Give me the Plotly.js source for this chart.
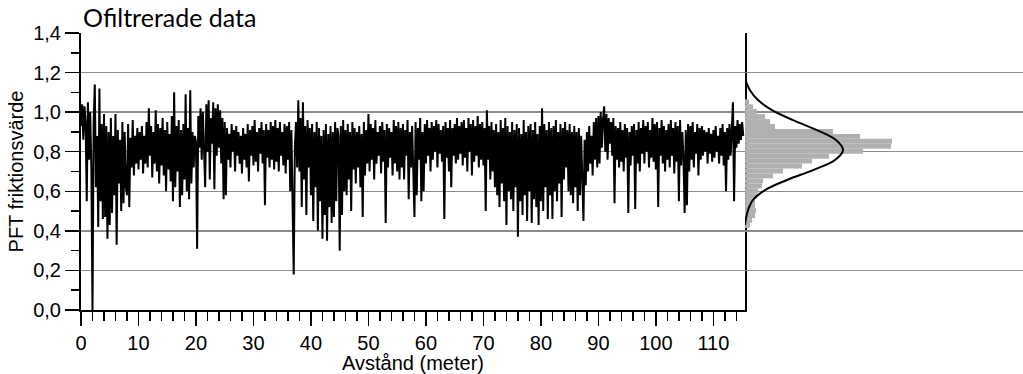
<!DOCTYPE html>
<html>
<head>
<meta charset="utf-8">
<script src="https://cdn.plot.ly/plotly-3.0.1.min.js"></script>
<style>html,body{margin:0;padding:0;background:#fff;}#chart{width:1023px;height:374px;}</style>
</head>
<body>
<div id="chart"></div>
<script>
// sampling step along the track (metres)
const stepMeters = 0.2;

// PFT friction values (one value per 0.2 m)
const pft = [
0.93,1.04,0.86,1.03,0.95,0.55,1.05,0.76,1.00,0.72,
0.00,0.95,1.14,0.62,0.88,0.42,1.12,0.55,0.94,0.46,
0.99,0.47,0.93,0.36,0.90,0.43,0.97,0.49,0.88,0.58,
0.99,0.33,0.91,0.64,0.86,0.50,0.95,0.54,0.90,0.62,
0.58,0.94,0.52,0.87,0.72,0.96,0.68,0.88,0.74,0.92,
0.71,0.90,0.76,0.93,0.69,0.88,0.74,0.95,0.72,1.02,
0.78,0.93,0.67,0.90,0.74,1.01,0.70,0.94,0.64,0.92,
0.73,0.97,0.68,0.91,0.60,0.95,0.71,0.89,0.65,0.98,
0.55,1.10,0.62,0.93,0.70,0.96,0.52,0.91,0.58,0.94,
0.66,1.09,0.60,0.92,0.56,1.11,0.64,0.90,0.72,0.88,
0.85,0.31,0.98,0.82,1.02,0.76,1.00,0.84,0.62,1.04,
0.80,1.06,0.66,0.97,0.84,1.05,0.61,1.02,0.78,1.04,
0.82,1.01,0.74,0.97,0.56,0.95,0.58,0.92,0.76,0.89,
0.72,0.94,0.80,0.91,0.70,0.93,0.78,0.90,0.74,0.88,
0.69,0.92,0.76,0.89,0.72,0.94,0.65,0.91,0.78,0.93,
0.73,0.96,0.75,0.90,0.70,0.92,0.79,0.95,0.74,0.91,
0.53,0.94,0.77,0.91,0.72,0.95,0.76,0.93,0.71,0.96,
0.75,0.92,0.70,0.95,0.78,0.90,0.73,0.94,0.69,0.93,
0.76,0.95,0.60,0.91,0.45,0.18,0.82,0.95,0.72,1.06,
0.70,0.97,0.52,1.05,0.66,0.93,0.48,0.96,0.72,0.92,
0.58,0.94,0.45,0.90,0.62,0.95,0.40,0.92,0.55,0.88,
0.36,0.91,0.48,0.94,0.35,0.89,0.52,0.93,0.44,0.90,
0.47,0.95,0.55,0.92,0.88,0.30,0.93,0.48,0.96,0.60,
0.91,0.58,0.94,0.66,0.90,0.50,0.95,0.71,0.92,0.64,
0.90,0.72,0.93,0.62,0.89,0.47,0.95,0.68,0.91,0.74,
0.99,0.70,0.94,0.76,0.92,0.66,0.96,0.74,0.90,0.78,
0.93,0.69,0.95,0.75,0.91,0.44,0.94,0.72,0.92,0.77,
0.90,0.68,0.96,0.74,0.93,0.70,0.95,0.66,0.92,0.72,
0.94,0.66,0.91,0.78,0.96,0.56,0.90,0.72,0.93,0.60,
0.47,0.95,0.58,0.92,0.76,0.97,0.55,0.90,0.60,0.94,
0.74,0.96,0.78,0.92,0.70,0.95,0.76,0.93,0.80,0.96,
0.72,0.94,0.79,0.91,0.75,0.93,0.46,0.95,0.77,0.92,
0.70,0.96,0.62,0.92,0.78,0.94,0.74,0.97,0.76,0.93,
0.79,0.95,0.73,0.96,0.77,0.92,0.70,0.97,0.80,0.94,
0.68,0.96,0.75,0.93,0.78,0.98,0.72,0.94,0.76,0.95,
0.73,0.92,0.50,1.01,0.76,0.93,0.66,0.95,0.70,0.91,
0.62,0.94,0.58,0.90,0.52,0.96,0.64,0.92,0.55,0.97,
0.43,0.93,0.60,0.90,0.56,0.95,0.50,0.91,0.62,0.94,
0.37,0.92,0.55,0.89,0.48,0.96,0.58,0.90,0.45,0.93,
0.60,0.94,0.44,0.91,0.56,0.95,0.52,0.89,0.43,0.93,
0.55,1.02,0.50,0.94,0.62,0.91,0.46,0.95,0.58,0.92,
0.46,0.93,0.60,0.96,0.55,0.90,0.64,0.94,0.47,0.92,
0.66,0.95,0.72,0.91,0.60,0.94,0.58,0.90,0.54,0.93,
0.62,0.90,0.50,0.92,0.58,0.88,0.66,0.45,0.86,0.63,
0.90,0.70,0.93,0.74,0.88,0.68,0.95,0.76,0.97,0.72,
0.98,0.74,1.00,0.82,0.96,1.03,0.80,0.99,0.76,0.97,
0.84,0.95,0.78,0.97,0.54,0.93,0.76,0.92,0.72,0.95,
0.75,0.91,0.70,0.94,0.77,0.92,0.49,0.90,0.73,0.93,
0.78,0.94,0.51,0.91,0.74,0.95,0.70,0.92,0.79,0.96,
0.74,0.93,0.80,0.95,0.72,0.91,0.77,0.97,0.75,0.94,
0.71,0.95,0.52,0.92,0.78,0.96,0.74,0.93,0.70,0.91,
0.76,0.94,0.72,0.96,0.78,0.92,0.69,0.95,0.75,0.93,
0.55,0.96,0.73,0.90,0.77,0.49,0.91,0.53,0.94,0.70,
0.93,0.76,0.95,0.72,0.90,0.79,0.94,0.68,0.92,0.76,
0.93,0.78,0.91,0.80,0.90,0.74,0.92,0.79,0.89,0.75,
0.91,0.77,0.93,0.80,0.88,0.74,0.92,0.78,0.94,0.73,
0.90,0.60,0.92,0.76,0.94,0.78,0.91,1.05,0.55,0.93,
0.82,0.96,0.84,0.94,0.86,0.95,0.88
];
const distance = pft.map((_, i) => +(i * stepMeters).toFixed(2));

// Histogram of PFT values (bin centres, bin width 0.025) and bar lengths
const histBinWidth = 0.025;
const histCenters = [1.0525,1.0275,1.0025,0.9775,0.9525,0.9275,0.9025,0.8775,0.8525,0.8275,0.8025,0.7775,0.7525,0.7275,0.7025,0.6775,0.6525,0.6275,0.6025,0.5775,0.5525,0.5275,0.5025,0.4775,0.4525,0.4275];
const histCounts  = [4,8,12,20,25,30,88,115,147,146,118,84,67,57,38,28,18,17,13,12,10,10,11,10,7,5];

// Fitted normal curve (value, height)
const normalValue  = [1.20,1.162,1.111,1.061,1.010,0.960,0.909,0.859,0.808,0.758,0.707,0.657,0.606,0.556,0.505,0.455,0.43];
const normalHeight = [0,   0.5,  5,    13,   27,   48,   72,   91,   98,   90,   68,   42,   20,   8,    3,    0.7,  0];

// Axis ticks
const xTicks = [0,10,20,30,40,50,60,70,80,90,100,110];
const yTicks = [0,0.2,0.4,0.6,0.8,1.0,1.2,1.4];

const tickFont = {family: 'Liberation Sans, Arial, sans-serif', size: 20, color: '#000'};

const traces = [
  {
    type: 'scatter', mode: 'lines',
    x: distance, y: pft,
    line: {color: '#000', width: 2},
    xaxis: 'x', yaxis: 'y', hoverinfo: 'skip'
  },
  {
    type: 'bar', orientation: 'h',
    y: histCenters, x: histCounts, width: histBinWidth,
    marker: {color: '#b0b0b0', line: {width: 0}},
    xaxis: 'x2', yaxis: 'y', hoverinfo: 'skip'
  },
  {
    type: 'scatter', mode: 'lines',
    y: normalValue, x: normalHeight,
    line: {color: '#000', width: 2, shape: 'spline', smoothing: 1},
    xaxis: 'x2', yaxis: 'y', hoverinfo: 'skip'
  }
];

const layout = {
  width: 1023, height: 374,
  margin: {l: 81, r: 0, t: 33, b: 64},
  paper_bgcolor: '#fff', plot_bgcolor: 'rgba(0,0,0,0)',
  showlegend: false,
  separators: ', ',
  title: {
    text: 'Ofiltrerade data',
    font: {family: 'Lato, Open Sans, sans-serif', size: 25, color: '#000'},
    x: 83 / 1023, xanchor: 'left', xref: 'container',
    y: 1 - 18 / 374, yanchor: 'middle', yref: 'container'
  },
  xaxis: {
    domain: [0, 664 / 942],
    range: [0, 115.5],
    tickvals: xTicks,
    ticktext: xTicks.map(String),
    ticks: 'outside', ticklen: 14, tickwidth: 1.5, tickcolor: '#000',
    minor: {dtick: 2, tick0: 0, ticks: 'outside', ticklen: 9, tickwidth: 1.5, tickcolor: '#000', showgrid: false},
    showline: true, linecolor: '#000', linewidth: 2, mirror: false,
    showgrid: false, zeroline: false,
    tickfont: tickFont,
    title: {text: 'Avstånd (meter)', font: {family: 'Liberation Sans, Arial, sans-serif', size: 20, color: '#000'}, standoff: 3}
  },
  xaxis2: {
    domain: [664 / 942, 1], range: [0, 278], anchor: 'y',
    visible: false, showgrid: false, zeroline: false
  },
  yaxis: {
    range: [0, 1.4],
    tickvals: yTicks,
    tickformat: '.1f',
    ticks: 'outside', ticklen: 14, tickwidth: 1.5, tickcolor: '#000',
    minor: {dtick: 0.1, tick0: 0, ticks: 'outside', ticklen: 8, tickwidth: 1.5, tickcolor: '#000', showgrid: false},
    showline: true, linecolor: '#000', linewidth: 2, mirror: true,
    showgrid: true, gridcolor: '#8c8c8c', gridwidth: 1.5,
    zeroline: false,
    tickfont: tickFont,
    title: {text: 'PFT friktionsvärde', font: {family: 'Liberation Sans, Arial, sans-serif', size: 20, color: '#000'}, standoff: 4}
  }
};

Plotly.newPlot('chart', traces, layout, {displayModeBar: false, staticPlot: true});
</script>
</body>
</html>
